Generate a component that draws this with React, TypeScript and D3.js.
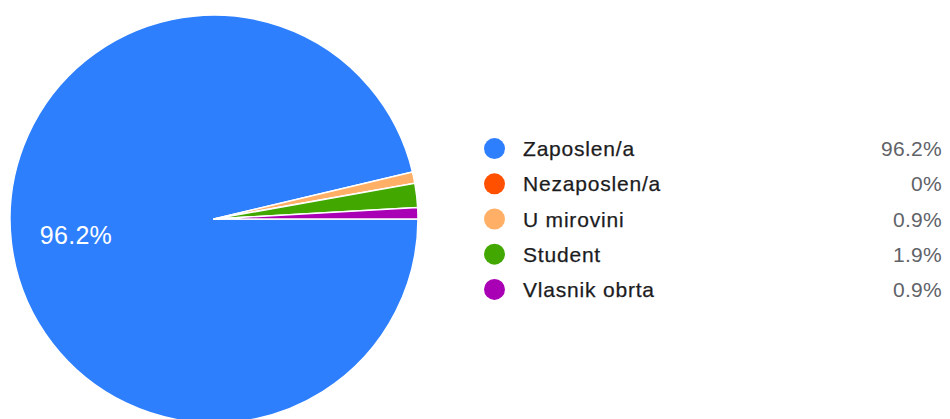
import React from "react";
import * as d3 from "d3";

// categories and their shares (percent)
const categories = ["Zaposlen/a", "Nezaposlen/a", "U mirovini", "Student", "Vlasnik obrta"];
const shares = [96.2, 0, 0.9, 1.9, 0.9];
const shareLabels = ["96.2%", "0%", "0.9%", "1.9%", "0.9%"];
const colors = ["#2d7ffe", "#ff5000", "#ffb066", "#42a800", "#a900b5"];

const W = 950;
const H = 419;

const App = () => {
  const data = categories.map((c, i) => ({ category: c, value: shares[i], label: shareLabels[i] }));

  const colorScale = d3.scaleOrdinal<string, string>().domain(categories).range(colors);

  // start at 3 o'clock and go clockwise
  const pie = d3
    .pie<{ category: string; value: number; label: string }>()
    .sort(null)
    .value((d) => d.value)
    .startAngle(Math.PI / 2)
    .endAngle(Math.PI / 2 + 2 * Math.PI);
  const pieData = pie(data);

  const radius = 204;
  const arc = d3.arc<any>().innerRadius(0).outerRadius(radius);
  const labelArc = d3.arc<any>().innerRadius(139).outerRadius(139);

  // legend rows
  const rowY = d3.scaleBand().domain(categories).range([131, 307]);

  return (
    <svg width={W} height={H} style={{ position: "absolute", left: 0, top: 0 }}>
      <rect width={W} height={H} fill="#ffffff" />
      <g transform={`translate(${214},${219})`}>
        {pieData.map((d) =>
          d.value > 0 ? (
            <path
              key={d.index}
              d={arc(d) as string}
              fill={colorScale(d.data.category)}
              stroke="#ffffff"
              strokeWidth={1.5}
              strokeLinejoin="round"
            />
          ) : null
        )}
        {pieData
          .filter((d) => d.endAngle - d.startAngle > 0.5)
          .map((d) => {
            const [x, y] = labelArc.centroid(d);
            return (
              <text
                key={d.index}
                x={x}
                y={y}
                textAnchor="middle"
                dominantBaseline="central"
                fill="#ffffff"
                fontFamily="'Liberation Sans', Arial, sans-serif"
                fontSize={25}
                letterSpacing={0.3}
              >
                {d.data.label}
              </text>
            );
          })}
      </g>
      <g fontFamily="'Liberation Sans', Arial, sans-serif" fontSize={21}>
        {data.map((d) => {
          const cy = (rowY(d.category) as number) + rowY.bandwidth() / 2;
          return (
            <g key={d.category}>
              <circle cx={494.5} cy={cy} r={10.5} fill={colorScale(d.category)} />
              <text x={523} y={cy} dominantBaseline="central" fill="#1c1c1e" letterSpacing={0.8} stroke="#1c1c1e" strokeWidth={0.25}>
                {d.category}
              </text>
              <text x={942} y={cy} dominantBaseline="central" textAnchor="end" fill="#5f6368" letterSpacing={0.3}>
                {d.label}
              </text>
            </g>
          );
        })}
      </g>
    </svg>
  );
};

export default App;
